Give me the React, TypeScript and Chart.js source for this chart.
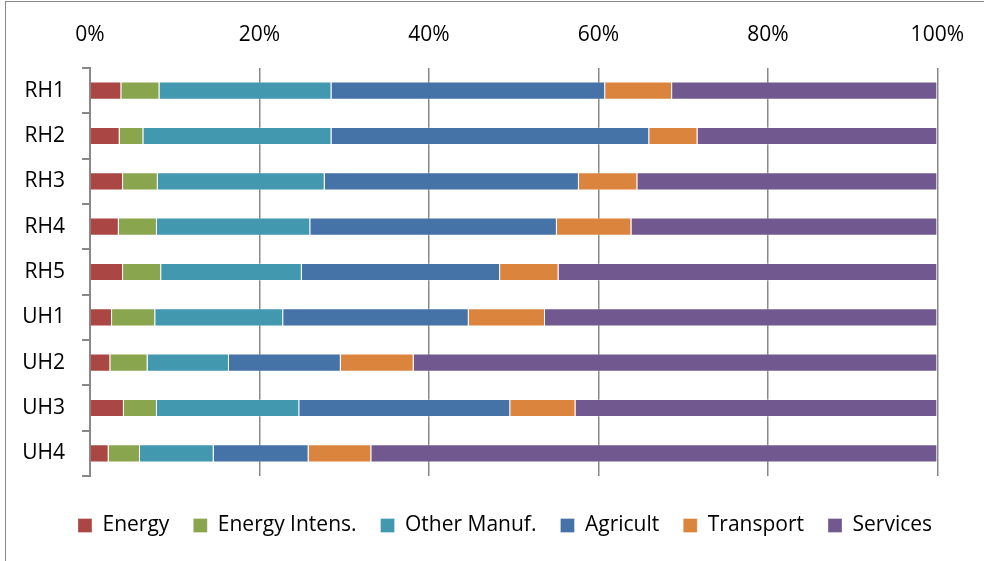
import React, { useEffect, useRef } from "react";
import { Chart, registerables } from "chart.js";

Chart.register(...registerables);

const categories = ["RH1", "RH2", "RH3", "RH4", "RH5", "UH1", "UH2", "UH3", "UH4"];
const energy = [3.7, 3.5, 3.9, 3.4, 3.9, 2.6, 2.4, 4.0, 2.2];
const energyIntens = [4.5, 2.8, 4.1, 4.5, 4.5, 5.1, 4.4, 3.9, 3.7];
const otherManuf = [20.3, 22.2, 19.7, 18.1, 16.6, 15.1, 9.6, 16.8, 8.7];
const agricult = [32.3, 37.5, 30.0, 29.1, 23.4, 21.9, 13.2, 24.9, 11.2];
const transport = [7.9, 5.7, 6.9, 8.8, 6.9, 9.0, 8.6, 7.7, 7.4];
const services = [31.3, 28.3, 35.4, 36.1, 44.7, 46.3, 61.8, 42.7, 66.8];
const xTicks = [0, 20, 40, 60, 80, 100];

const FONT = "'Open Sans', sans-serif";

const legendShift = {
  id: "legendShift",
  afterLayout(chart: any) {
    const l = chart.legend;
    if (l) {
      l.left += 36;
      l.right += 36;
    }
  },
};

export default function App() {
  const ref = useRef<HTMLCanvasElement | null>(null);
  useEffect(() => {
    if (!ref.current) return;
    const mk = (label: string, data: number[], color: string) => ({
      label,
      data,
      backgroundColor: color,
      borderColor: "rgba(255,255,255,0.3)",
      borderWidth: 1,
      barPercentage: 0.4,
      categoryPercentage: 1,
    });
    const chart = new Chart(ref.current, {
      type: "bar",
      data: {
        labels: categories,
        datasets: [
          mk("Energy", energy, "#AA4643"),
          mk("Energy Intens.", energyIntens, "#89A54E"),
          mk("Other Manuf.", otherManuf, "#4198AF"),
          mk("Agricult", agricult, "#4572A7"),
          mk("Transport", transport, "#DB843D"),
          mk("Services", services, "#71588F"),
        ],
      },
      plugins: [legendShift],
      options: {
        indexAxis: "y",
        responsive: false,
        animation: false,
        layout: { padding: { top: 0, left: 0, right: 46, bottom: 15 } },
        plugins: {
          tooltip: { enabled: false },
          legend: {
            position: "bottom",
            title: { display: true, text: " ", color: "rgba(0,0,0,0)", padding: 0, font: { size: 12.5 } },
            labels: {
              boxWidth: 14,
              boxHeight: 14,
              padding: 24,
              color: "#000",
              font: { family: FONT, size: 21 },
            },
          },
        },
        scales: {
          x: {
            position: "top",
            stacked: true,
            min: 0,
            max: 100,
            afterBuildTicks: (s: any) => {
              s.ticks = xTicks.map((v) => ({ value: v }));
            },
            ticks: {
              callback: (v: any) => v + "%",
              color: "#000",
              padding: 20,
              font: { family: FONT, size: 21 },
            },
            grid: { color: "#888", lineWidth: 1.5, drawTicks: false },
            border: { display: false },
            afterFit: (s: any) => {
              s.height = 68;
            },
          },
          y: {
            stacked: true,
            ticks: {
              color: "#000",
              padding: 17,
              font: { family: FONT, size: 21 },
            },
            grid: {
              offset: true,
              drawOnChartArea: false,
              tickLength: 8,
              color: "#888",
              lineWidth: 2,
            },
            border: { display: true, color: "#888", width: 2 },
            afterFit: (s: any) => {
              s.width = 90;
            },
          },
        },
      },
    });
    return () => chart.destroy();
  }, []);
  return (
    <div style={{ position: "fixed", left: 0, top: 0, width: 984, height: 561, background: "#fff" }}>
      <div
        style={{
          position: "absolute",
          left: 5,
          top: 1,
          width: 990,
          height: 580,
          borderLeft: "1px solid #888",
          borderTop: "1px solid #888",
        }}
      />
      <canvas ref={ref} width={984} height={561} style={{ position: "absolute", left: 0, top: 0 }} />
    </div>
  );
}
